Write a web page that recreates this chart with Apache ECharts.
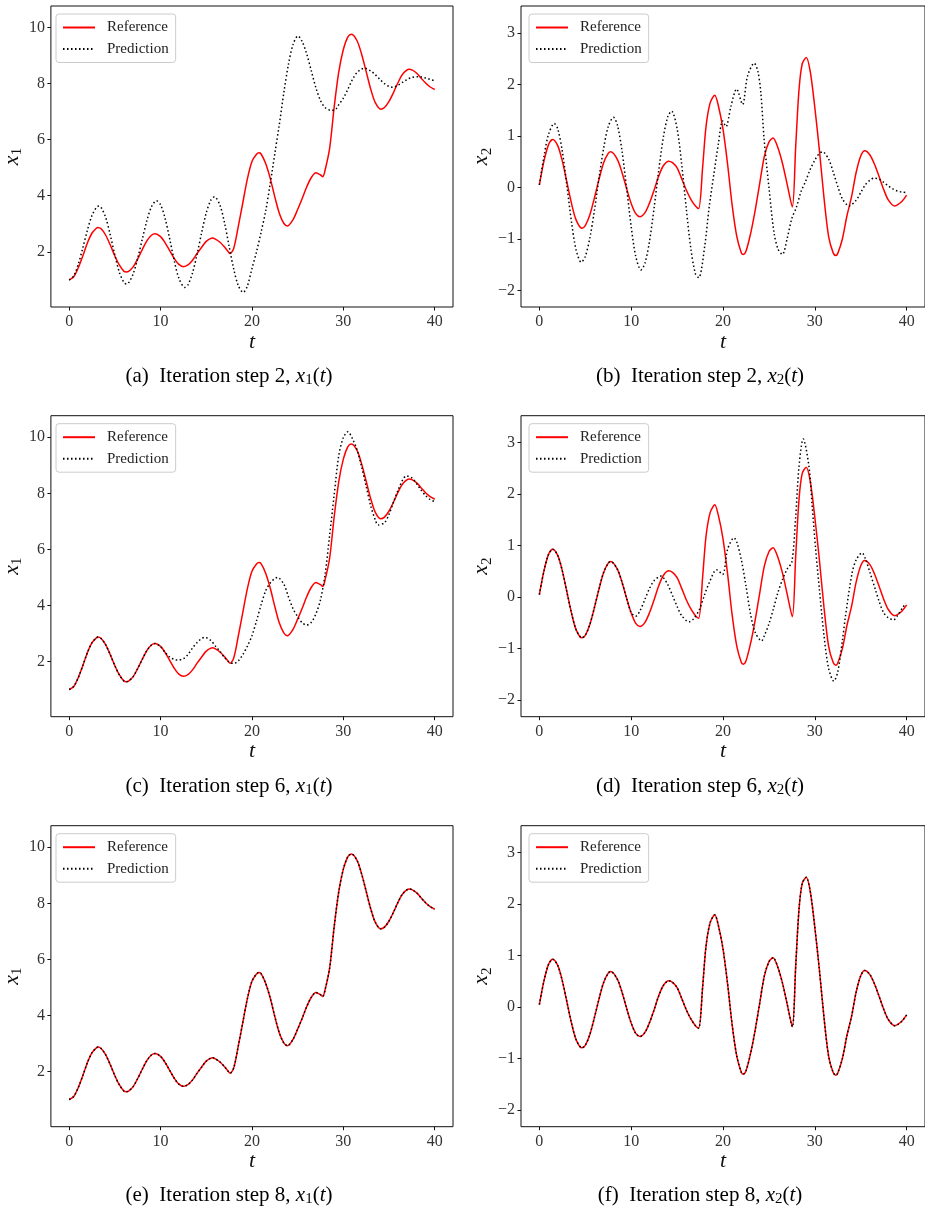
<!DOCTYPE html>
<html>
<head>
<meta charset="utf-8">
<title>Iteration steps</title>
<script src="https://cdn.jsdelivr.net/npm/echarts@6/dist/echarts.min.js"></script>
<style>
  html, body { margin: 0; padding: 0; background: #fff; }
  #main { width: 925px; height: 1211px; }
</style>
</head>
<body>
<div id="main"></div>
<script>
// tick labels
var tTicks = [0, 10, 20, 30, 40];
var x1Ticks = [2, 4, 6, 8, 10];
var x2Ticks = [-2, -1, 0, 1, 2, 3];

// reference solution, pairs of [t, value]
var refX1 = [[0,1.00],[0.5,1.11],[1,1.43],[1.5,1.86],[2,2.32],[2.5,2.67],[3,2.85],[3.14,2.87],[3.5,2.82],[4,2.59],[4.5,2.24],[5,1.85],[5.5,1.52],[6,1.30],[6.25,1.28],[6.5,1.30],[7,1.46],[7.5,1.75],[8,2.08],[8.5,2.39],[9,2.59],[9.4,2.64],[10,2.54],[10.5,2.32],[11,2.04],[11.5,1.76],[12,1.55],[12.5,1.47],[13,1.53],[13.5,1.70],[14,1.94],[14.5,2.16],[15,2.37],[15.7,2.49],[16,2.45],[16.5,2.34],[17,2.17],[17.3,2.05],[17.6,1.94],[18,2.12],[18.5,2.90],[19,3.75],[19.5,4.60],[20,5.22],[20.5,5.48],[20.77,5.53],[21,5.49],[21.5,5.15],[22,4.62],[22.5,3.96],[23,3.37],[23.5,3.01],[23.9,2.92],[24.5,3.15],[25,3.51],[25.5,3.90],[26,4.32],[26.5,4.65],[27,4.82],[27.5,4.74],[27.75,4.68],[28,4.91],[28.5,5.69],[29,7.17],[29.5,8.42],[30,9.22],[30.5,9.67],[30.9,9.76],[31.5,9.53],[32,9.05],[32.5,8.43],[33,7.80],[33.5,7.32],[34.1,7.09],[34.5,7.15],[35,7.37],[35.5,7.69],[36,8.05],[36.5,8.34],[37.2,8.51],[37.5,8.49],[38,8.38],[38.5,8.20],[39,8.02],[39.5,7.88],[40,7.79]];
var refX2 = [[0,0.05],[0.5,0.51],[1,0.83],[1.45,0.93],[2,0.81],[2.5,0.51],[3,0.10],[3.5,-0.31],[4,-0.63],[4.63,-0.79],[5,-0.74],[5.5,-0.53],[6,-0.20],[6.5,0.16],[7,0.48],[7.5,0.66],[7.78,0.69],[8.5,0.54],[9,0.29],[9.5,-0.02],[10,-0.31],[10.5,-0.51],[10.96,-0.57],[11.5,-0.49],[12,-0.30],[12.5,-0.05],[13,0.22],[13.5,0.42],[14.1,0.51],[14.5,0.48],[15,0.38],[15.5,0.17],[16,-0.05],[16.5,-0.23],[17,-0.36],[17.35,-0.41],[17.79,0.41],[18.15,1.18],[18.6,1.64],[19.1,1.79],[19.5,1.58],[20,1.13],[20.5,0.45],[21,-0.35],[21.5,-0.95],[22,-1.27],[22.2,-1.30],[22.5,-1.24],[23,-0.90],[23.5,-0.45],[24,0.08],[24.5,0.60],[25,0.88],[25.45,0.96],[26,0.76],[26.5,0.45],[27,0.05],[27.55,-0.38],[27.92,0.80],[28.28,1.90],[28.63,2.40],[29.07,2.52],[29.5,2.25],[30,1.55],[30.5,0.72],[31,-0.20],[31.5,-0.95],[32,-1.27],[32.3,-1.32],[32.5,-1.28],[33,-1.00],[33.5,-0.55],[34,-0.18],[34.5,0.29],[35,0.61],[35.44,0.71],[36,0.63],[36.5,0.45],[37,0.21],[37.5,-0.04],[38,-0.24],[38.7,-0.36],[39,-0.34],[39.5,-0.27],[40,-0.15]];

// predictions, iteration step 2
var predX1Step2 = [[0,0.99],[0.5,1.14],[1,1.56],[1.5,2.15],[2,2.78],[2.5,3.30],[3,3.59],[3.25,3.63],[3.5,3.58],[4,3.22],[4.5,2.60],[5,1.88],[5.5,1.26],[6,0.90],[6.25,0.85],[6.5,0.89],[7,1.21],[7.5,1.77],[8,2.45],[8.5,3.11],[9,3.60],[9.55,3.82],[10,3.68],[10.5,3.19],[11,2.46],[11.5,1.68],[12,1.06],[12.65,0.73],[13,0.82],[13.5,1.25],[14,1.92],[14.5,2.69],[15,3.39],[15.5,3.84],[15.9,3.96],[16.5,3.66],[17,3.03],[17.5,2.20],[18,1.39],[18.5,0.80],[19.04,0.55],[19.5,0.78],[20,1.40],[20.5,2.00],[21,2.70],[21.5,3.45],[22,4.43],[22.5,5.50],[23,6.55],[23.5,7.70],[24,8.70],[24.5,9.40],[25.04,9.70],[25.5,9.50],[26,9.05],[26.5,8.45],[27,7.85],[27.5,7.40],[28,7.15],[28.7,7.04],[29.2,7.10],[29.5,7.25],[30,7.48],[30.5,7.80],[31,8.15],[31.5,8.40],[32,8.52],[32.35,8.55],[33,8.45],[33.5,8.32],[34,8.15],[34.5,8.00],[35,7.90],[35.4,7.87],[36,7.95],[36.5,8.05],[37,8.15],[37.5,8.22],[38.1,8.25],[38.5,8.24],[39,8.20],[39.5,8.15],[40,8.10]];
var predX2Step2 = [[0,0.05],[0.5,0.60],[1,1.03],[1.63,1.24],[2,1.14],[2.5,0.70],[3,0.03],[3.5,-0.67],[4,-1.21],[4.56,-1.45],[5,-1.34],[5.5,-0.98],[6,-0.44],[6.5,0.19],[7,0.76],[7.5,1.18],[8.07,1.36],[8.5,1.21],[9,0.71],[9.5,-0.01],[10,-0.76],[10.5,-1.34],[11.07,-1.60],[11.5,-1.47],[12,-1.04],[12.5,-0.39],[13,0.33],[13.5,0.97],[14,1.38],[14.4,1.48],[15,1.14],[15.5,0.45],[16,-0.41],[16.5,-1.19],[17,-1.68],[17.36,-1.75],[18,-1.15],[18.5,-0.37],[19,0.25],[19.5,0.85],[19.96,1.29],[20.32,1.18],[20.87,1.58],[21.48,1.91],[22.13,1.61],[22.67,2.16],[23.4,2.41],[23.8,2.25],[24.12,1.84],[24.48,0.93],[25.02,-0.03],[25.56,-0.88],[26,-1.20],[26.47,-1.30],[27,-0.98],[27.5,-0.60],[28,-0.38],[28.5,-0.08],[29,0.12],[29.5,0.35],[30,0.53],[30.5,0.66],[30.85,0.69],[31.5,0.55],[32,0.30],[32.5,0.02],[33,-0.22],[33.74,-0.36],[34.5,-0.25],[35,-0.10],[35.5,0.05],[36,0.14],[36.46,0.18],[37,0.16],[37.5,0.10],[38,0.03],[38.5,-0.03],[39,-0.07],[39.5,-0.09],[40,-0.10]];

// predictions, iteration step 6
var predX1Step6 = [[0,1.00],[0.5,1.11],[1,1.43],[1.5,1.86],[2,2.32],[2.5,2.67],[3,2.85],[3.14,2.87],[3.5,2.82],[4,2.59],[4.5,2.24],[5,1.85],[5.5,1.52],[6,1.30],[6.25,1.28],[6.5,1.30],[7,1.46],[7.5,1.75],[8,2.08],[8.5,2.39],[9,2.59],[9.4,2.64],[10,2.53],[10.5,2.32],[11,2.16],[11.5,2.07],[11.9,2.05],[12.5,2.10],[13,2.25],[13.5,2.48],[14,2.68],[14.5,2.82],[14.85,2.86],[15.5,2.75],[16,2.55],[16.5,2.36],[17,2.14],[17.5,1.98],[18,1.93],[18.5,2.02],[19,2.25],[19.5,2.55],[20,2.92],[20.5,3.45],[21,4.02],[21.5,4.52],[22,4.80],[22.5,4.96],[22.8,5.00],[23.5,4.75],[24,4.30],[24.5,3.88],[25,3.60],[25.5,3.38],[26,3.30],[26.5,3.40],[27,3.70],[27.5,4.20],[28,5.10],[28.5,6.50],[29,7.95],[29.5,9.35],[30,9.99],[30.5,10.20],[31,9.95],[31.5,9.55],[32,8.95],[32.5,8.25],[33,7.55],[33.5,7.05],[33.8,6.87],[34.5,6.95],[35,7.25],[35.5,7.70],[36,8.12],[36.5,8.48],[36.9,8.62],[37.5,8.55],[38,8.35],[38.5,8.12],[39,7.92],[39.5,7.78],[40,7.70]];
var predX2Step6 = [[0,0.05],[0.5,0.51],[1,0.83],[1.45,0.93],[2,0.81],[2.5,0.51],[3,0.10],[3.5,-0.31],[4,-0.63],[4.63,-0.79],[5,-0.74],[5.5,-0.53],[6,-0.20],[6.5,0.16],[7,0.48],[7.5,0.66],[7.78,0.69],[8.5,0.54],[9,0.29],[9.5,-0.02],[10,-0.30],[10.5,-0.37],[11,-0.25],[11.5,-0.04],[12,0.17],[12.5,0.32],[13.3,0.41],[13.5,0.38],[14,0.24],[14.5,0.03],[15,-0.18],[15.5,-0.36],[16.3,-0.48],[16.8,-0.42],[17.43,-0.24],[18,0.05],[18.5,0.28],[19.3,0.53],[19.96,0.44],[20.5,0.93],[21.2,1.15],[21.5,1.07],[22,0.72],[22.5,0.22],[23,-0.33],[23.5,-0.68],[24.2,-0.85],[24.5,-0.75],[25,-0.52],[25.5,-0.22],[26,0.10],[26.5,0.35],[27,0.55],[27.5,0.68],[27.92,1.57],[28.28,2.54],[28.74,3.07],[29.36,2.54],[29.7,1.80],[30.09,0.93],[30.5,0.15],[31,-0.75],[31.5,-1.38],[32.07,-1.63],[32.5,-1.45],[33,-0.85],[33.34,-0.37],[34.06,0.47],[34.5,0.72],[35.14,0.86],[35.5,0.75],[36,0.48],[36.59,0.15],[37,-0.08],[37.49,-0.30],[38,-0.40],[38.58,-0.44],[39,-0.36],[39.5,-0.22],[39.91,-0.12]];

// predictions, iteration step 8 (on top of the reference)
var predX1Step8 = [[0,1.00],[0.5,1.11],[1,1.43],[1.5,1.86],[2,2.32],[2.5,2.67],[3,2.85],[3.14,2.87],[3.5,2.82],[4,2.59],[4.5,2.24],[5,1.85],[5.5,1.52],[6,1.30],[6.25,1.28],[6.5,1.30],[7,1.46],[7.5,1.75],[8,2.08],[8.5,2.39],[9,2.59],[9.4,2.64],[10,2.54],[10.5,2.32],[11,2.04],[11.5,1.76],[12,1.55],[12.5,1.47],[13,1.53],[13.5,1.70],[14,1.94],[14.5,2.16],[15,2.37],[15.7,2.49],[16,2.45],[16.5,2.34],[17,2.17],[17.3,2.05],[17.6,1.94],[18,2.12],[18.5,2.90],[19,3.75],[19.5,4.60],[20,5.22],[20.5,5.48],[20.77,5.53],[21,5.49],[21.5,5.15],[22,4.62],[22.5,3.96],[23,3.37],[23.5,3.01],[23.9,2.92],[24.5,3.15],[25,3.51],[25.5,3.90],[26,4.32],[26.5,4.65],[27,4.82],[27.5,4.74],[27.75,4.68],[28,4.91],[28.5,5.69],[29,7.17],[29.5,8.42],[30,9.22],[30.5,9.67],[30.9,9.76],[31.5,9.53],[32,9.05],[32.5,8.43],[33,7.80],[33.5,7.32],[34.1,7.09],[34.5,7.15],[35,7.37],[35.5,7.69],[36,8.05],[36.5,8.34],[37.2,8.51],[37.5,8.49],[38,8.38],[38.5,8.20],[39,8.02],[39.5,7.88],[40,7.79]];
var predX2Step8 = [[0,0.05],[0.5,0.51],[1,0.83],[1.45,0.93],[2,0.81],[2.5,0.51],[3,0.10],[3.5,-0.31],[4,-0.63],[4.63,-0.79],[5,-0.74],[5.5,-0.53],[6,-0.20],[6.5,0.16],[7,0.48],[7.5,0.66],[7.78,0.69],[8.5,0.54],[9,0.29],[9.5,-0.02],[10,-0.31],[10.5,-0.51],[10.96,-0.57],[11.5,-0.49],[12,-0.30],[12.5,-0.05],[13,0.22],[13.5,0.42],[14.1,0.51],[14.5,0.48],[15,0.38],[15.5,0.17],[16,-0.05],[16.5,-0.23],[17,-0.36],[17.35,-0.41],[17.79,0.41],[18.15,1.18],[18.6,1.64],[19.1,1.79],[19.5,1.58],[20,1.13],[20.5,0.45],[21,-0.35],[21.5,-0.95],[22,-1.27],[22.2,-1.30],[22.5,-1.24],[23,-0.90],[23.5,-0.45],[24,0.08],[24.5,0.60],[25,0.88],[25.45,0.96],[26,0.76],[26.5,0.45],[27,0.05],[27.55,-0.38],[27.92,0.80],[28.28,1.90],[28.63,2.40],[29.07,2.52],[29.5,2.25],[30,1.55],[30.5,0.72],[31,-0.20],[31.5,-0.95],[32,-1.27],[32.3,-1.32],[32.5,-1.28],[33,-1.00],[33.5,-0.55],[34,-0.18],[34.5,0.29],[35,0.61],[35.44,0.71],[36,0.63],[36.5,0.45],[37,0.21],[37.5,-0.04],[38,-0.24],[38.7,-0.36],[39,-0.34],[39.5,-0.27],[40,-0.15]];

var FONT = '"Liberation Serif", "DejaVu Serif", serif';
var chart = echarts.init(document.getElementById('main'));

var panels = [
    {col: 0, row: 0, ref: refX1, pred: predX1Step2, v: 1, tag: '(a)', step: 2},
    {col: 1, row: 0, ref: refX2, pred: predX2Step2, v: 2, tag: '(b)', step: 2},
    {col: 0, row: 1, ref: refX1, pred: predX1Step6, v: 1, tag: '(c)', step: 6},
    {col: 1, row: 1, ref: refX2, pred: predX2Step6, v: 2, tag: '(d)', step: 6},
    {col: 0, row: 2, ref: refX1, pred: predX1Step8, v: 1, tag: '(e)', step: 8},
    {col: 1, row: 2, ref: refX2, pred: predX2Step8, v: 2, tag: '(f)', step: 8}
];

var gridLeft = [48, 521];
var gridTop = [6, 415.7, 825.7];
var captionX = [229, 700];
var captionY = [376, 786, 1195];

var mathRich = {
    i: {fontFamily: FONT, fontStyle: 'italic', fontSize: 22, lineHeight: 26, color: '#111'},
    s: {fontFamily: FONT, fontSize: 15, lineHeight: 15, verticalAlign: 'bottom', color: '#111'}
};

function minus(v) {
    return v < 0 ? '\u2212' + Math.abs(v) : String(v);
}

var grids = [], xAxes = [], yAxes = [], series = [], legends = [], captions = [];

panels.forEach(function (p, i) {
    grids.push({
        left: gridLeft[p.col], top: gridTop[p.row], width: 405, height: 301,
        show: true, borderColor: '#111', borderWidth: 1, backgroundColor: 'transparent'
    });
    xAxes.push({
        type: 'value', gridIndex: i, min: -2, max: 42, position: 'bottom',
        axisLine: {show: false, onZero: false},
        axisTick: {show: true, length: 3.5, customValues: tTicks, lineStyle: {color: '#111', width: 1}},
        axisLabel: {customValues: tTicks, fontFamily: FONT, fontSize: 16, color: '#333', margin: 7},
        splitLine: {show: false},
        name: 't', nameLocation: 'middle', nameGap: 21,
        nameTextStyle: {fontFamily: FONT, fontStyle: 'italic', fontSize: 22, color: '#111'}
    });
    var ticks = p.v === 1 ? x1Ticks : x2Ticks;
    yAxes.push({
        type: 'value', gridIndex: i, position: 'left',
        min: p.v === 1 ? 0.03 : -2.32,
        max: p.v === 1 ? 10.77 : 3.52,
        axisLine: {show: false, onZero: false},
        axisTick: {show: true, length: 3.5, customValues: ticks, lineStyle: {color: '#111', width: 1}},
        axisLabel: {customValues: ticks, fontFamily: FONT, fontSize: 16, color: '#333', margin: 6,
            formatter: minus},
        splitLine: {show: false},
        name: '{i|x}{s|' + p.v + '}', nameLocation: 'middle', nameGap: 22, nameRotate: 90,
        nameTextStyle: {rich: mathRich}
    });
    series.push({
        name: 'Reference', type: 'line', xAxisIndex: i, yAxisIndex: i,
        data: p.ref, symbol: 'none', smooth: 0.3,
        lineStyle: {color: '#ff0000', width: 1.5},
        itemStyle: {color: '#ff0000'}
    });
    series.push({
        name: 'Prediction', type: 'line', xAxisIndex: i, yAxisIndex: i,
        data: p.pred, symbol: 'none', smooth: 0.3,
        lineStyle: {color: '#000', width: 1.5, type: [1.5, 2.5]},
        itemStyle: {color: '#000'}
    });
    legends.push({
        data: ['Reference', 'Prediction'],
        left: gridLeft[p.col] + 8, top: gridTop[p.row] + 8,
        orient: 'vertical', selectedMode: false,
        itemWidth: 32, itemHeight: 14, itemGap: 6.5,
        padding: [6, 7, 6, 6],
        backgroundColor: 'rgba(255,255,255,0.8)',
        borderColor: '#cccccc', borderWidth: 1, borderRadius: 3,
        itemStyle: {opacity: 0},
        textStyle: {fontFamily: FONT, fontSize: 15, color: '#222', padding: [0, 0, 0, 7]}
    });
    captions.push({
        type: 'text', x: captionX[p.col], y: captionY[p.row],
        style: {
            text: p.tag + '  Iteration step ' + p.step + ', {i|x}{s|' + p.v + '}({i|t})',
            fontFamily: FONT, fontSize: 21, lineHeight: 24, fill: '#000',
            align: 'center', verticalAlign: 'middle',
            rich: {
                i: {fontFamily: FONT, fontStyle: 'italic', fontSize: 21, lineHeight: 24, fill: '#000'},
                s: {fontFamily: FONT, fontSize: 15, lineHeight: 15, verticalAlign: 'bottom', fill: '#000'}
            }
        }
    });
});

var option = {
    animation: false,
    backgroundColor: '#fff',
    grid: grids,
    xAxis: xAxes,
    yAxis: yAxes,
    legend: legends,
    series: series,
    graphic: captions
};

chart.setOption(option);
window.addEventListener('resize', function () {
    chart.resize();
});
</script>
</body>
</html>
